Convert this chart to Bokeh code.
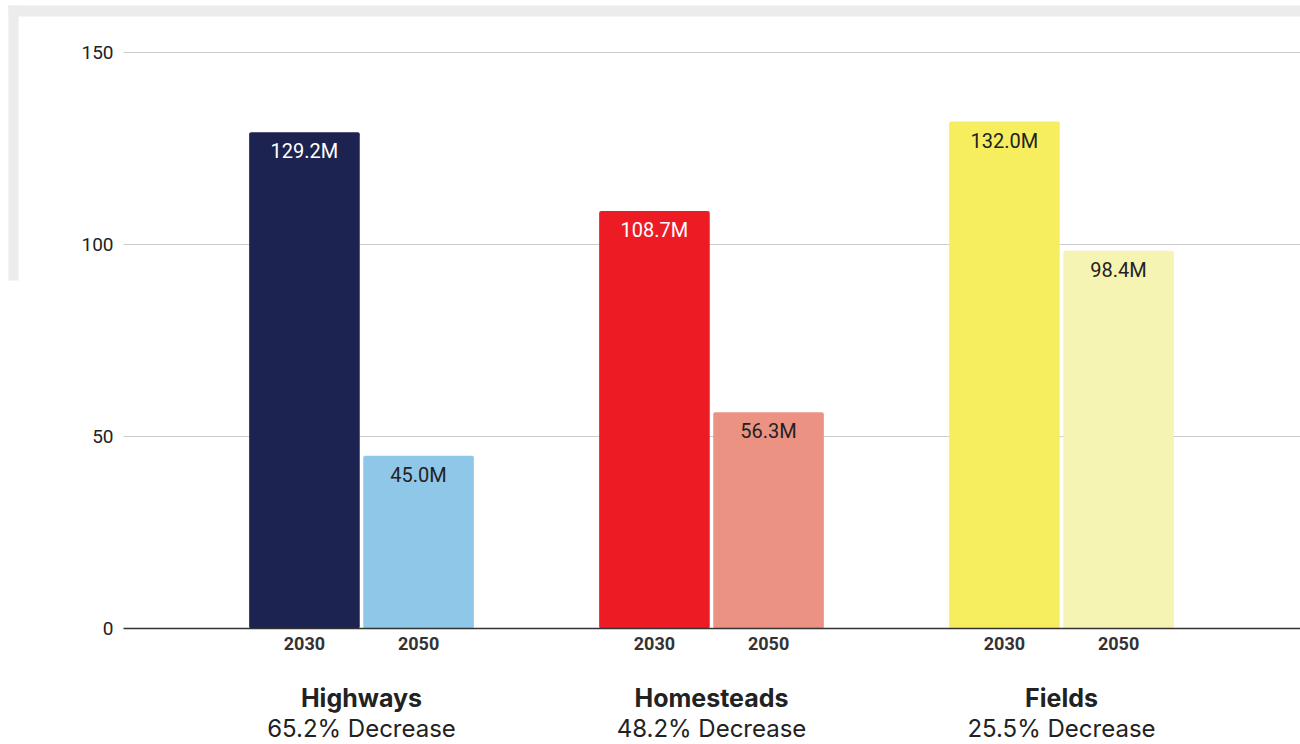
from bokeh.plotting import figure
from bokeh.models import ColumnDataSource, Range1d
from bokeh.core.properties import value
from bokeh.embed import file_html
from bokeh.resources import INLINE

groups = ["Highways", "Homesteads", "Fields"]
changes = ["65.2% Decrease", "48.2% Decrease", "25.5% Decrease"]
years = ["2030", "2050"]
v2030 = [129.2, 108.7, 132.0]
v2050 = [45.0, 56.3, 98.4]
colors_2030 = ["#1d2351", "#ed1c24", "#f6ee5f"]
colors_2050 = ["#8fc7e8", "#ec9283", "#f6f4b3"]
label_colors_2030 = ["#ffffff", "#ffffff", "#222222"]
label_colors_2050 = ["#222222", "#222222", "#222222"]
y_ticks = [0, 50, 100, 150]

W, H = 1300, 744
# layout in pixels
px_per_group = 350.0
first_center_px = 361.0
zero_px = 628.0
px_per_unit = 3.84
plot_left_px = 123.0

def dx(px):
    return (px - first_center_px) / px_per_group

def dy(py):
    return (zero_px - py) / px_per_unit

off = 0.163
bw = 0.316
xs = list(range(len(groups)))

p = figure(width=W, height=H, output_backend="svg", toolbar_location=None,
           x_range=Range1d(dx(0), dx(W)), y_range=Range1d(dy(H), dy(0)),
           min_border=0, min_border_left=0, min_border_right=0,
           min_border_top=0, min_border_bottom=0)
p.outline_line_color = None
p.background_fill_color = "white"
p.border_fill_color = "white"
p.axis.visible = False
p.grid.visible = False

# light gray container edge (top and left bands)
p.quad(left=[dx(8), dx(8)], right=[dx(W), dx(18)], top=[dy(5), dy(5)],
       bottom=[dy(16), dy(280)], fill_color="#ececec", line_color=None)

# horizontal gridlines and y tick labels
gx0 = dx(plot_left_px)
gx1 = dx(W)
grid_ticks = [t for t in y_ticks if t != 0]
p.segment(x0=[gx0] * len(grid_ticks), x1=[gx1] * len(grid_ticks), y0=grid_ticks, y1=grid_ticks,
          line_color="#cccccc", line_width=1)
p.text(x=[gx0] * len(y_ticks), y=y_ticks, text=[str(t) for t in y_ticks], x_offset=-10,
       text_align="right", text_baseline="middle", text_font=value("Roboto"),
       text_font_size="19px", text_color="#222222")

src30 = ColumnDataSource(dict(x=[x - off for x in xs], top=v2030, color=colors_2030,
                              lab=[f"{v:.1f}M" for v in v2030], lc=label_colors_2030,
                              yr=[years[0]] * 3))
src50 = ColumnDataSource(dict(x=[x + off for x in xs], top=v2050, color=colors_2050,
                              lab=[f"{v:.1f}M" for v in v2050], lc=label_colors_2050,
                              yr=[years[1]] * 3))

for src in (src30, src50):
    p.vbar(x="x", top="top", bottom=0, width=bw, fill_color="color", line_color=None,
           border_radius=2, source=src)
    p.text(x="x", y="top", text="lab", text_color="lc", text_font=value("Roboto"),
           text_font_size="20px", text_align="center", text_baseline="top", y_offset=7,
           source=src)
    p.text(x="x", y=0, text="yr", text_color="#333333", text_font=value("Roboto"),
           text_font_style="bold", text_font_size="18px", text_align="center",
           text_baseline="middle", y_offset=15, source=src)

# baseline (x axis line)
p.segment(x0=[gx0], x1=[gx1], y0=[0], y1=[0], line_color="#333333", line_width=1.5)

gsrc = ColumnDataSource(dict(x=xs, g=groups, c=changes))
p.text(x="x", y=0, text="g", text_color="#222222", text_font=value("Inter"),
       text_font_style="bold", text_font_size="25px", text_align="center",
       text_baseline="middle", y_offset=69, source=gsrc)
p.text(x="x", y=0, text="c", text_color="#222222", text_font=value("Inter"),
       text_font_size="24px", text_align="center", text_baseline="middle",
       y_offset=100, source=gsrc)

open("out.html", "w").write(file_html(p, INLINE))
